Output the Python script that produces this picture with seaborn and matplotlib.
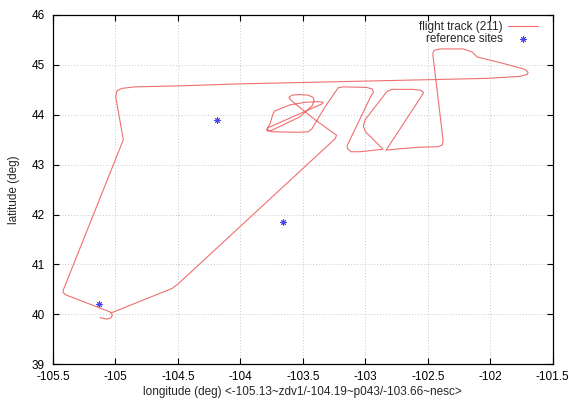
import numpy as np
import pandas as pd
import matplotlib
matplotlib.use("Agg")
import matplotlib.pyplot as plt
import seaborn as sns

# flight track (longitude, latitude)
track_lon = [-105.124, -105.068, -105.036, -105.024, -105.044, -105.396, -105.420, -105.416,
             -104.937, -104.998, -104.988, -104.948, -104.843, -104.483, -104.003, -102.562,
             -102.028, -101.761, -101.705, -101.697, -101.721, -101.897, -102.105, -102.145,
             -102.218, -102.402, -102.450, -102.460, -102.378, -102.382, -102.418, -102.562,
             -102.722, -102.834,
             # second racetrack
             -102.554, -102.534, -102.554, -102.618, -102.786, -102.826, -103.002, -103.016,
             -102.998, -102.858,
             # first racetrack
             -103.042, -103.114, -103.142, -103.146, -102.954, -102.934, -102.946, -102.994,
             -103.178, -103.218, -103.234, -103.322,
             # small loops
             -103.429, -103.458, -103.523, -103.747, -103.783, -103.779, -103.346, -103.338,
             -103.378, -103.482, -103.603, -103.723, -103.739, -103.763, -103.791, -103.779,
             -103.747, -103.523, -103.426, -103.410, -103.418, -103.458, -103.523, -103.587,
             -103.611, -103.595, -103.402, -103.230, -103.242,
             # return leg
             -104.499, -104.547, -105.030]
track_lat = [39.934, 39.906, 39.930, 39.990, 40.050, 40.390, 40.440, 40.500,
             43.500, 44.360, 44.480, 44.530, 44.560, 44.580, 44.620, 44.700,
             44.730, 44.770, 44.810, 44.850, 44.910, 45.030, 45.160, 45.260,
             45.320, 45.320, 45.290, 45.220, 43.500, 43.400, 43.360, 43.350,
             43.320, 43.290,
             44.360, 44.440, 44.490, 44.510, 44.510, 44.470, 43.900, 43.770,
             43.660, 43.310,
             43.260, 43.260, 43.320, 43.380, 44.380, 44.450, 44.520, 44.550,
             44.560, 44.540, 44.480, 44.160,
             43.714, 43.660, 43.650, 43.660, 43.700, 43.740, 44.220, 44.250,
             44.264, 44.250, 44.200, 44.080, 44.020, 43.820, 43.700, 43.670,
             43.690, 43.960, 44.180, 44.280, 44.350, 44.394, 44.406, 44.394,
             44.350, 44.290, 43.900, 43.590, 43.520,
             40.610, 40.520, 40.034]

site_lon = [-105.13, -104.19, -103.66]
site_lat = [40.20, 43.89, 41.85]

x_ticks = [-105.5, -105, -104.5, -104, -103.5, -103, -102.5, -102, -101.5]
y_ticks = [39, 40, 41, 42, 43, 44, 45, 46]

track = pd.DataFrame({"lon": track_lon, "lat": track_lat})
sites = pd.DataFrame({"lon": site_lon, "lat": site_lat})

sns.set_theme(style="ticks")
plt.rcParams["font.family"] = ["Liberation Sans", "DejaVu Sans"]

fig = plt.figure(figsize=(5.69, 4.0), dpi=100)
ax = fig.add_axes([53 / 569, 1 - 364.3 / 400, (552.7 - 53) / 569, (364.3 - 15) / 400])

sns.lineplot(data=track, x="lon", y="lat", sort=False, estimator=None, ax=ax,
             color="#ee7070", linewidth=0.8, label="flight track (211)")
sns.scatterplot(data=sites, x="lon", y="lat", ax=ax, marker=(8, 2, 0), s=16,
                color="#4646f0", linewidth=0.7, label="reference sites")

ax.set_xlim(-105.5, -101.5)
ax.set_ylim(39, 46)
ax.set_xticks(x_ticks)
ax.set_xticklabels([f"{v:g}" for v in x_ticks])
ax.set_yticks(y_ticks)
ax.set_yticklabels([f"{v:g}" for v in y_ticks])
ax.tick_params(direction="in", length=4, width=0.8, top=True, right=True,
               labelsize=8.5, colors="black")
ax.tick_params(axis="x", pad=5)
ax.tick_params(axis="y", pad=6)
ax.grid(True, linestyle=(0, (1, 2)), color="#c8c8c8", linewidth=0.7)
for s in ax.spines.values():
    s.set_color("black")
    s.set_linewidth(0.9)

ax.set_xlabel("longitude (deg) <-105.13~zdv1/-104.19~p043/-103.66~nesc>", fontsize=8.5, labelpad=2)
ax.set_ylabel("latitude (deg)", fontsize=8.5, labelpad=8)

leg = ax.legend(loc="upper right", bbox_to_anchor=(0.976, 0.99), frameon=False,
                markerfirst=False, fontsize=8.5, handlelength=2.6, handletextpad=0.4,
                labelspacing=0.0, borderaxespad=0, borderpad=0.2)

fig.savefig("out.png", dpi=100)
